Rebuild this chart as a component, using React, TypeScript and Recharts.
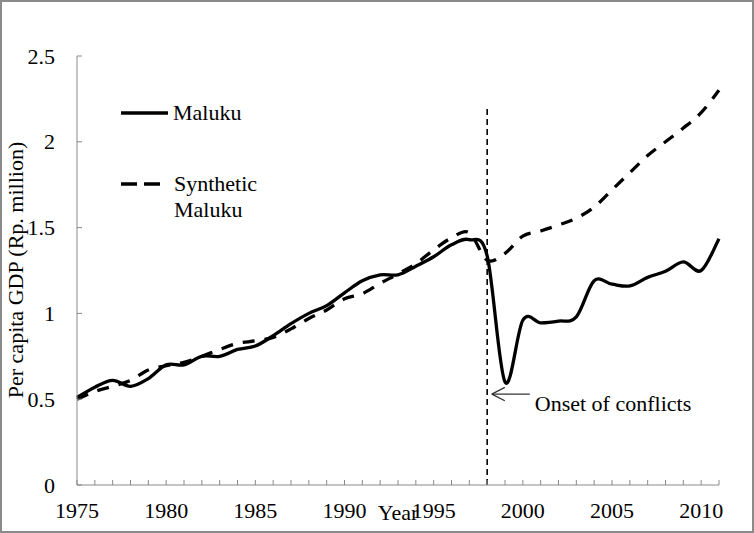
import { LineChart, Line, XAxis, YAxis, ReferenceLine, ReferenceDot, Legend } from 'recharts'

const years = [
  1975, 1976, 1977, 1978, 1979, 1980, 1981, 1982, 1983, 1984, 1985, 1986, 1987,
  1988, 1989, 1990, 1991, 1992, 1993, 1994, 1995, 1996, 1997, 1998, 1999, 2000,
  2001, 2002, 2003, 2004, 2005, 2006, 2007, 2008, 2009, 2010, 2011
]

// per capita GDP, Rp. million
const maluku = [
  0.51, 0.57, 0.61, 0.575, 0.62, 0.70, 0.70, 0.75, 0.75, 0.79, 0.81, 0.87, 0.94,
  1.0, 1.045, 1.12, 1.19, 1.225, 1.225, 1.275, 1.33, 1.40, 1.43, 1.335, 0.60, 0.96,
  0.945, 0.955, 0.98, 1.19, 1.17, 1.16, 1.21, 1.245, 1.30, 1.25, 1.435
]

const synthetic = [
  0.50, 0.545, 0.575, 0.61, 0.67, 0.695, 0.715, 0.75, 0.79, 0.825, 0.84, 0.86, 0.91,
  0.97, 1.02, 1.085, 1.115, 1.175, 1.23, 1.29, 1.37, 1.44, 1.47, 1.31, 1.35, 1.45,
  1.48, 1.515, 1.555, 1.62, 1.72, 1.82, 1.92, 2.0, 2.08, 2.17, 2.30
]

const yTicks = [0, 0.5, 1, 1.5, 2, 2.5]
const conflictYear = 1998

const data = years.map((year, i) => ({
  year,
  maluku: maluku[i],
  synthetic: synthetic[i]
}))

const FONT = '"Liberation Serif", "Times New Roman", serif'
const FS = 22
const AXIS = '#8a8a8a'

// excel-like smoothed line (catmull-rom)
function smoothCurve(context: any) {
  let pts: number[][] = []
  return {
    areaStart() {},
    areaEnd() {},
    lineStart() {
      pts = []
    },
    point(x: number, y: number) {
      pts.push([+x, +y])
    },
    lineEnd() {
      const n = pts.length
      if (!n) return
      context.moveTo(pts[0][0], pts[0][1])
      for (let i = 0; i < n - 1; i++) {
        const p0 = pts[Math.max(i - 1, 0)]
        const p1 = pts[i]
        const p2 = pts[i + 1]
        const p3 = pts[Math.min(i + 2, n - 1)]
        context.bezierCurveTo(
          p1[0] + (p2[0] - p0[0]) / 6,
          p1[1] + (p2[1] - p0[1]) / 6,
          p2[0] - (p3[0] - p1[0]) / 6,
          p2[1] - (p3[1] - p1[1]) / 6,
          p2[0],
          p2[1]
        )
      }
    }
  }
}

function XTick({ x, y, payload }: any) {
  const v = payload.value
  return (
    <g>
      <line x1={x} y1={y} x2={x} y2={y - 5} stroke={AXIS} />
      {v % 5 === 0 && (
        <text x={x} y={y + 33} textAnchor="middle" fontSize={FS} fontFamily={FONT} fill="#000">
          {v}
        </text>
      )}
    </g>
  )
}

function YTick({ x, y, payload }: any) {
  return (
    <g>
      <line x1={x} y1={y} x2={x + 5} y2={y} stroke={AXIS} />
      <text x={x - 22} y={y} textAnchor="end" dominantBaseline="central" fontSize={FS} fontFamily={FONT} fill="#000">
        {payload.value}
      </text>
    </g>
  )
}

function LegendBox() {
  return (
    <svg width={300} height={230} style={{ display: 'block' }}>
      <line x1={121} y1={113} x2={168} y2={113} stroke="#000" strokeWidth={3.3} />
      <text x={173} y={120} fontSize={FS} fontFamily={FONT}>Maluku</text>
      <line x1={121} y1={184} x2={160} y2={184} stroke="#000" strokeWidth={3.3} strokeDasharray="16 7" />
      <text x={174} y={191} fontSize={FS} fontFamily={FONT}>Synthetic</text>
      <text x={174} y={217} fontSize={FS} fontFamily={FONT}>Maluku</text>
    </svg>
  )
}

export default function App() {
  return (
    <div style={{ position: 'relative', width: 754, height: 533, background: '#fff' }}>
      <style>{'body{margin:0}'}</style>

      <LineChart
        width={754}
        height={533}
        data={data}
        margin={{ top: 56, right: 35, bottom: 0, left: 0 }}
      >
        <XAxis
          dataKey="year"
          type="number"
          domain={[1975, 2011]}
          ticks={years}
          interval={0}
          height={48}
          stroke={AXIS}
          tickLine={false}
          tickSize={0}
          tickMargin={0}
          tick={<XTick />}
          label={{
            content: () => (
              <text x={398} y={520} textAnchor="middle" fontSize={FS} fontFamily={FONT}>
                Year
              </text>
            )
          }}
        />

        <YAxis
          type="number"
          domain={[0, 2.5]}
          ticks={yTicks}
          interval={0}
          width={77}
          stroke={AXIS}
          tickLine={false}
          tickSize={0}
          tickMargin={0}
          tick={<YTick />}
          label={{
            content: () => (
              <text
                x={23}
                y={270}
                textAnchor="middle"
                transform="rotate(-90 23 270)"
                fontSize={FS}
                fontFamily={FONT}
              >
                Per capita GDP (Rp. million)
              </text>
            )
          }}
        />

        <Legend
          layout="vertical"
          align="center"
          verticalAlign="middle"
          content={<LegendBox />}
          wrapperStyle={{ left: 0, top: 0, width: 300, height: 230 }}
        />

        <ReferenceLine
          segment={[{ x: conflictYear, y: 0 }, { x: conflictYear, y: 2.2 }]}
          stroke="#000"
          strokeWidth={1.6}
          strokeDasharray="6 4"
        />

        {/* arrow to the onset of conflicts */}
        <ReferenceLine segment={[{ x: 1998.26, y: 0.53 }, { x: 2000.39, y: 0.53 }]} stroke="#333" strokeWidth={1.3} />
        <ReferenceLine segment={[{ x: 1998.26, y: 0.53 }, { x: 1998.99, y: 0.569 }]} stroke="#333" strokeWidth={1.3} />
        <ReferenceLine segment={[{ x: 1998.26, y: 0.53 }, { x: 1998.99, y: 0.491 }]} stroke="#333" strokeWidth={1.3} />
        <ReferenceDot
          x={2000.39}
          y={0.476}
          r={0}
          stroke="none"
          fill="none"
          label={{
            content: ({ viewBox }: any) => (
              <text
                x={viewBox.x + viewBox.width / 2 + 5}
                y={viewBox.y + viewBox.height / 2}
                dominantBaseline="central"
                fontSize={FS}
                fontFamily={FONT}
              >
                Onset of conflicts
              </text>
            )
          }}
        />

        <Line
          name="Maluku"
          dataKey="maluku"
          type={smoothCurve as any}
          stroke="#000"
          strokeWidth={3.3}
          dot={false}
          isAnimationActive={false}
        />
        <Line
          name="Synthetic Maluku"
          dataKey="synthetic"
          type={smoothCurve as any}
          stroke="#000"
          strokeWidth={3.3}
          strokeDasharray="12 10"
          dot={false}
          isAnimationActive={false}
        />
      </LineChart>

      <div
        style={{
          position: 'absolute',
          inset: 0,
          border: '2px solid #8a8a8a',
          pointerEvents: 'none'
        }}
      />
    </div>
  )
}
